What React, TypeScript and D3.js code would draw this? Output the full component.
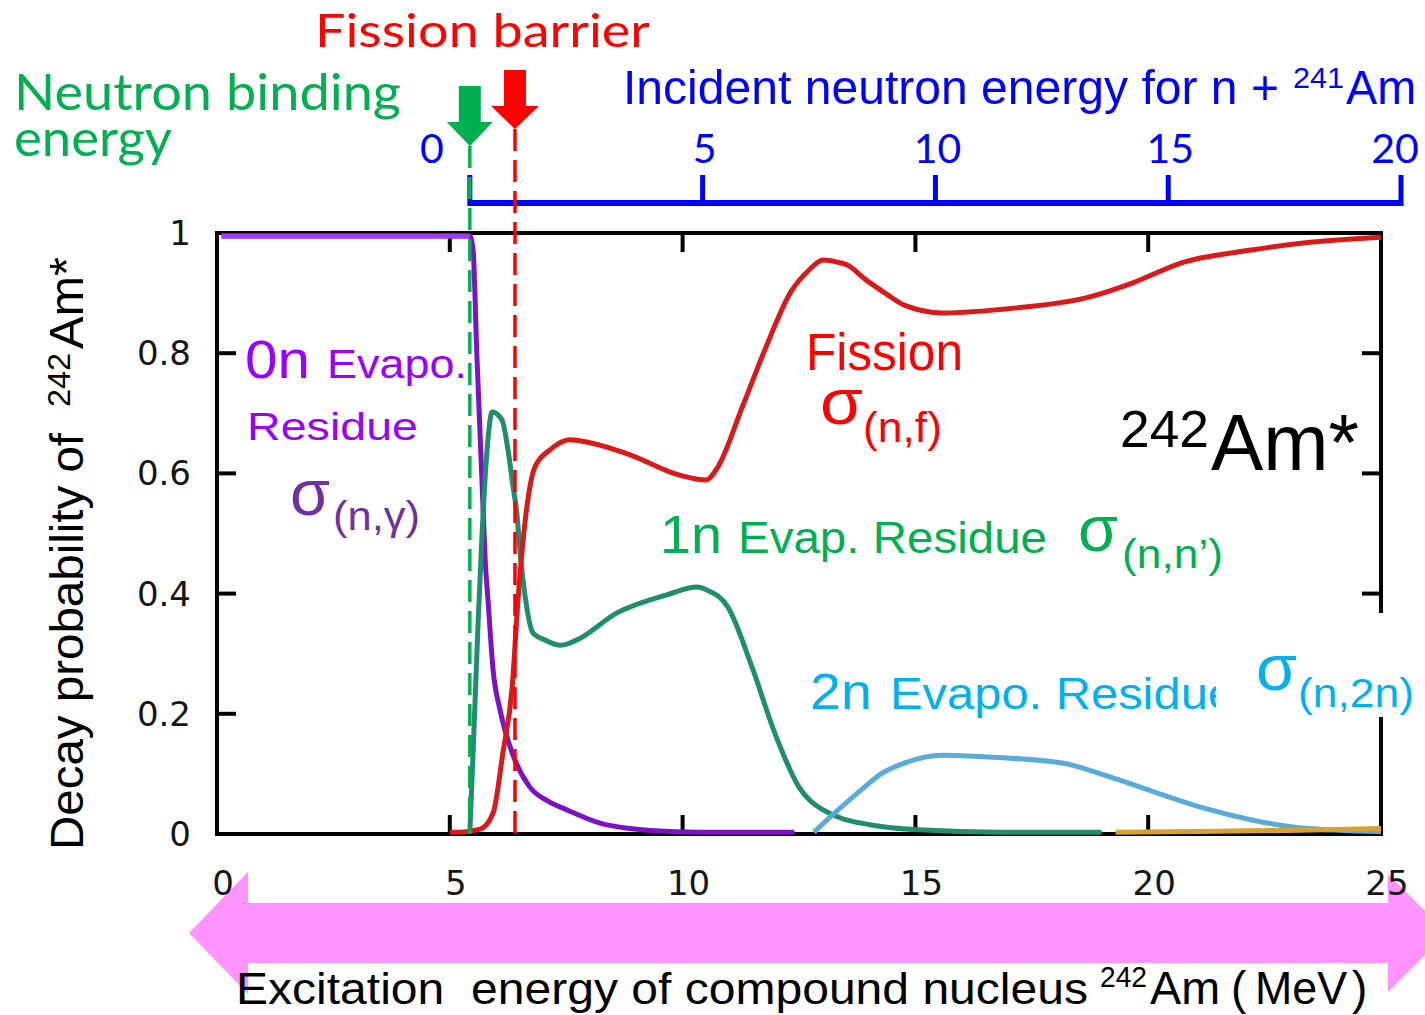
import React from "react";
import * as d3 from "d3";

type Pt = [number, number];

// ---- axis data ----
const xTickValues = [0, 5, 10, 15, 20, 25];
const xTickLabels = ["0", "5", "10", "15", "20", "25"];
const yTickValues = [0, 0.2, 0.4, 0.6, 0.8, 1];
const yTickLabels = ["0", "0.2", "0.4", "0.6", "0.8", "1"];
const incidentTickValues = [0, 5, 10, 15, 20];
const incidentTickLabels = ["0", "5", "10", "15", "20"];

const neutronBindingEnergy = 5.43; // MeV
const fissionBarrierEnergy = 6.4; // MeV

// ---- series (excitation energy MeV, decay probability) ----
const zeroNEvap: Pt[] = [
  [0.1, 0.995], [5.43, 0.995], [5.5, 0.972], [5.58, 0.8], [5.69, 0.59], [5.76, 0.456],
  [5.82, 0.39], [5.93, 0.273], [6.08, 0.206], [6.34, 0.135], [6.72, 0.078], [7.1, 0.055],
  [7.52, 0.04], [8.23, 0.018], [9.3, 0.006], [10.4, 0.003], [12.4, 0.003],
];
const fission: Pt[] = [
  [5.0, 0.003], [5.22, 0.003], [5.65, 0.008], [5.93, 0.035], [6.14, 0.135], [6.34, 0.245],
  [6.46, 0.384], [6.62, 0.522], [6.83, 0.611], [7.15, 0.639], [7.58, 0.656], [8.01, 0.651],
  [8.87, 0.631], [9.94, 0.597], [10.5, 0.589], [10.76, 0.611], [11.28, 0.71], [11.79, 0.81],
  [12.31, 0.9], [12.71, 0.938], [13.02, 0.955], [13.3, 0.952], [13.53, 0.947], [13.94, 0.922],
  [14.35, 0.9], [14.76, 0.88], [15.59, 0.867], [17.12, 0.875], [18.66, 0.892], [19.7, 0.918],
  [20.7, 0.95], [22.25, 0.972], [23.28, 0.983], [25, 0.993],
];
const oneNEvap: Pt[] = [
  [5.43, 0.003], [5.5, 0.135], [5.61, 0.356], [5.69, 0.494], [5.8, 0.639], [5.91, 0.702],
  [6.12, 0.689], [6.25, 0.639], [6.36, 0.577], [6.44, 0.534], [6.51, 0.468], [6.62, 0.394],
  [6.79, 0.334], [7.04, 0.323], [7.37, 0.314], [7.73, 0.323], [8.59, 0.368], [9.66, 0.398],
  [10.31, 0.411], [10.52, 0.406], [10.97, 0.378], [11.49, 0.278], [11.98, 0.168], [12.5, 0.078],
  [13.02, 0.04], [14.05, 0.015], [15.08, 0.007], [16.8, 0.003], [19, 0.003],
];
const twoNEvap: Pt[] = [
  [12.82, 0.003], [13.34, 0.04], [13.83, 0.073], [14.26, 0.1], [14.76, 0.118], [15.59, 0.131],
  [16.6, 0.128], [18.15, 0.118], [19.18, 0.095], [20.2, 0.068], [21.2, 0.043], [22.25, 0.023],
  [23.3, 0.01], [25, 0.004],
];
const threeNEvap: Pt[] = [
  [19.3, 0.003], [21, 0.004], [23, 0.006], [25, 0.009],
];

const CALIBRI = "Lato, 'Open Sans', sans-serif";
const ARIAL = "'Liberation Sans', Arial, sans-serif";
const GNU = "'DejaVu Sans', sans-serif";

type TProps = {
  x: number; y: number; size: number; fill: string; family?: string; len?: number;
  anchor?: "start" | "middle" | "end"; children: React.ReactNode; pre?: boolean;
};
const T = ({ x, y, size, fill, family = ARIAL, len, anchor = "start", children, pre }: TProps) => (
  <text
    x={x}
    y={y}
    fontSize={size}
    fill={fill}
    fontFamily={family}
    textAnchor={anchor}
    textLength={len}
    lengthAdjust={len ? "spacingAndGlyphs" : undefined}
    style={pre ? { whiteSpace: "pre" } : undefined}
  >
    {children}
  </text>
);

export default function App() {
  const W = 1425;
  const H = 1015;
  const x = d3.scaleLinear().domain([0, 25]).range([217, 1381]);
  const y = d3.scaleLinear().domain([0, 1]).range([834, 233]);
  const xInc = d3
    .scaleLinear()
    .domain([0, 20])
    .range([x(neutronBindingEnergy), x(neutronBindingEnergy + 20)]);
  const line = d3
    .line<Pt>()
    .x((d) => x(d[0]))
    .y((d) => y(d[1]))
    .curve(d3.curveMonotoneX);

  const [x0, x1] = x.range();
  const [yb, yt] = y.range();
  const flatTop = zeroNEvap.filter((d) => d[1] >= 0.99);

  const bnX = x(neutronBindingEnergy);
  const fbX = x(fissionBarrierEnergy);

  const series = [
    { data: zeroNEvap, color: "#7A12C6" },
    { data: oneNEvap, color: "#1E8E6E" },
    { data: twoNEvap, color: "#5AAADA" },
    { data: threeNEvap, color: "#D9A22E" },
    { data: fission, color: "#DA1A1A" },
  ];

  return (
    <svg
      width={W}
      height={H}
      style={{ position: "absolute", left: 0, top: 0, background: "#fff" }}
    >
      <rect x={0} y={0} width={W} height={H} fill="#fff" />

      {/* pink double arrow */}
      <polygon
        points="189,933 248,872 248,903 1388,903 1388,874 1447,933 1388,992 1388,963 248,963 248,994"
        fill="#FF93FF"
      />

      {/* frame */}
      <rect x={x0} y={yt} width={x1 - x0} height={yb - yt} fill="none" stroke="#000" strokeWidth={4} />
      {xTickValues.slice(1, -1).map((v) => (
        <g key={"xt" + v}>
          <line x1={x(v)} x2={x(v)} y1={yb} y2={yb - 19} stroke="#000" strokeWidth={4} />
          <line x1={x(v)} x2={x(v)} y1={yt} y2={yt + 19} stroke="#000" strokeWidth={4} />
        </g>
      ))}
      {yTickValues.slice(1, -1).map((v) => (
        <g key={"yt" + v}>
          <line x1={x0} x2={x0 + 19} y1={y(v)} y2={y(v)} stroke="#000" strokeWidth={4} />
          <line x1={x1} x2={x1 - 19} y1={y(v)} y2={y(v)} stroke="#000" strokeWidth={4} />
        </g>
      ))}

      {/* curves */}
      {series.map((s, i) => (
        <path key={i} d={line(s.data) || ""} fill="none" stroke={s.color} strokeWidth={5} strokeLinejoin="round" />
      ))}
      <path d={d3.line<Pt>().x((d) => x(d[0])).y((d) => y(d[1]))(flatTop) || ""} stroke="#9B3BFF" strokeWidth={5} fill="none" />

      {/* tick labels */}
      {yTickValues.map((v, i) => (
        <T key={"yl" + v} x={191} y={y(v) + 12} size={34} fill="#151515" family={GNU} anchor="end">
          {yTickLabels[i]}
        </T>
      ))}
      {xTickValues.map((v, i) => (
        <T key={"xl" + v} x={x(v) + 6} y={895} size={34} fill="#151515" family={GNU} anchor="middle">
          {xTickLabels[i]}
        </T>
      ))}

      {/* incident neutron energy axis */}
      <line x1={xInc(0)} x2={xInc(20)} y1={203} y2={203} stroke="#0000FF" strokeWidth={6} />
      {incidentTickValues.map((v) => (
        <line key={"it" + v} x1={xInc(v)} x2={xInc(v)} y1={206} y2={175} stroke="#0000FF" strokeWidth={5} />
      ))}
      {incidentTickValues.map((v, i) => (
        <T key={"il" + v} x={xInc(v) + (v === 0 ? -38 : v === 20 ? -6 : 2)} y={163} size={41} fill="#0000FF" family={CALIBRI} anchor="middle">
          {incidentTickLabels[i]}
        </T>
      ))}
      <T x={623} y={104} size={48} fill="#0000FF" len={656}>Incident neutron energy for n +</T>
      <T x={1293} y={88} size={30} fill="#0000FF" len={51}>241</T>
      <T x={1346} y={104} size={48} fill="#0000FF" len={70}>Am</T>

      {/* binding energy / fission barrier markers */}
      <line x1={bnX} x2={bnX} y1={146} y2={yb} stroke="#00B050" strokeWidth={3.5} strokeDasharray="22,9" />
      <line x1={fbX} x2={fbX} y1={129} y2={yb} stroke="#FF0000" strokeWidth={3.5} strokeDasharray="22,9" />
      <polygon
        points={`${bnX - 11},86 ${bnX + 11},86 ${bnX + 11},122 ${bnX + 23},122 ${bnX},146 ${bnX - 23},122 ${bnX - 11},122`}
        fill="#00B050"
      />
      <polygon
        points={`${fbX - 11},70 ${fbX + 11},70 ${fbX + 11},106 ${fbX + 24},106 ${fbX},129 ${fbX - 24},106 ${fbX - 11},106`}
        fill="#FF0000"
      />
      <T x={315} y={47} size={47} fill="#FF0000" family={CALIBRI} len={335}>Fission barrier</T>
      <T x={14} y={110} size={51} fill="#00B050" family={CALIBRI} len={387}>Neutron binding</T>
      <T x={14} y={156} size={51} fill="#00B050" family={CALIBRI} len={158}>energy</T>

      {/* 0n label */}
      <T x={245} y={378} size={53} fill="#9900FF" len={65}>0n</T>
      <T x={327} y={378} size={40} fill="#9900FF" len={140}>Evapo.</T>
      <T x={247} y={440} size={39} fill="#9900FF" len={171}>Residue</T>
      <T x={290} y={515} size={64} fill="#7030A0" len={40}>σ</T>
      <T x={333} y={530} size={40} fill="#7030A0" len={87}>(n,γ)</T>

      {/* fission label */}
      <T x={806} y={370} size={51} fill="#FF0000" len={157}>Fission</T>
      <T x={820} y={424} size={64} fill="#FF0000" len={43}>σ</T>
      <T x={863} y={442} size={42} fill="#FF0000" len={79}>(n,f)</T>

      {/* nucleus */}
      <T x={1120} y={447} size={52} fill="#000" len={89}>242</T>
      <T x={1211} y={470} size={80} fill="#000" len={148}>Am*</T>

      {/* 1n label */}
      <T x={660} y={553} size={53} fill="#00B050" len={62}>1n</T>
      <T x={738} y={553} size={45} fill="#00B050" len={309}>Evap. Residue</T>
      <T x={1078} y={551} size={64} fill="#00B050" len={40}>σ</T>
      <T x={1122} y={568} size={40} fill="#00B050" len={101}>(n,n’)</T>

      {/* 2n label */}
      <T x={810} y={709} size={50} fill="#00B0F0" len={62}>2n</T>
      <T x={890} y={709} size={44} fill="#00B0F0" len={345}>Evapo. Residue</T>
      <rect x={1216} y={613} width={220} height={104} fill="#fff" />
      <T x={1256} y={690} size={64} fill="#00B0F0" len={41}>σ</T>
      <T x={1298} y={707} size={40} fill="#00B0F0" len={116}>(n,2n)</T>

      {/* y axis title */}
      <g transform="translate(83,850) rotate(-90)">
        <T x={0} y={0} size={47} fill="#000" len={417}>Decay probability of</T>
        <T x={443} y={-13} size={32} fill="#000" len={54}>242</T>
        <T x={501} y={0} size={48} fill="#000" len={92}>Am*</T>
      </g>

      {/* x axis title */}
      <T x={236} y={1004} size={45} fill="#000" len={852} pre>Excitation  energy of compound nucleus</T>
      <T x={1100} y={987} size={29} fill="#000" len={47}>242</T>
      <T x={1150} y={1004} size={46} fill="#000" len={70}>Am</T>
      <T x={1231} y={1004} size={46} fill="#000">(</T>
      <T x={1255} y={1004} size={46} fill="#000" len={92}>MeV</T>
      <T x={1352} y={1004} size={46} fill="#000">)</T>
    </svg>
  );
}
